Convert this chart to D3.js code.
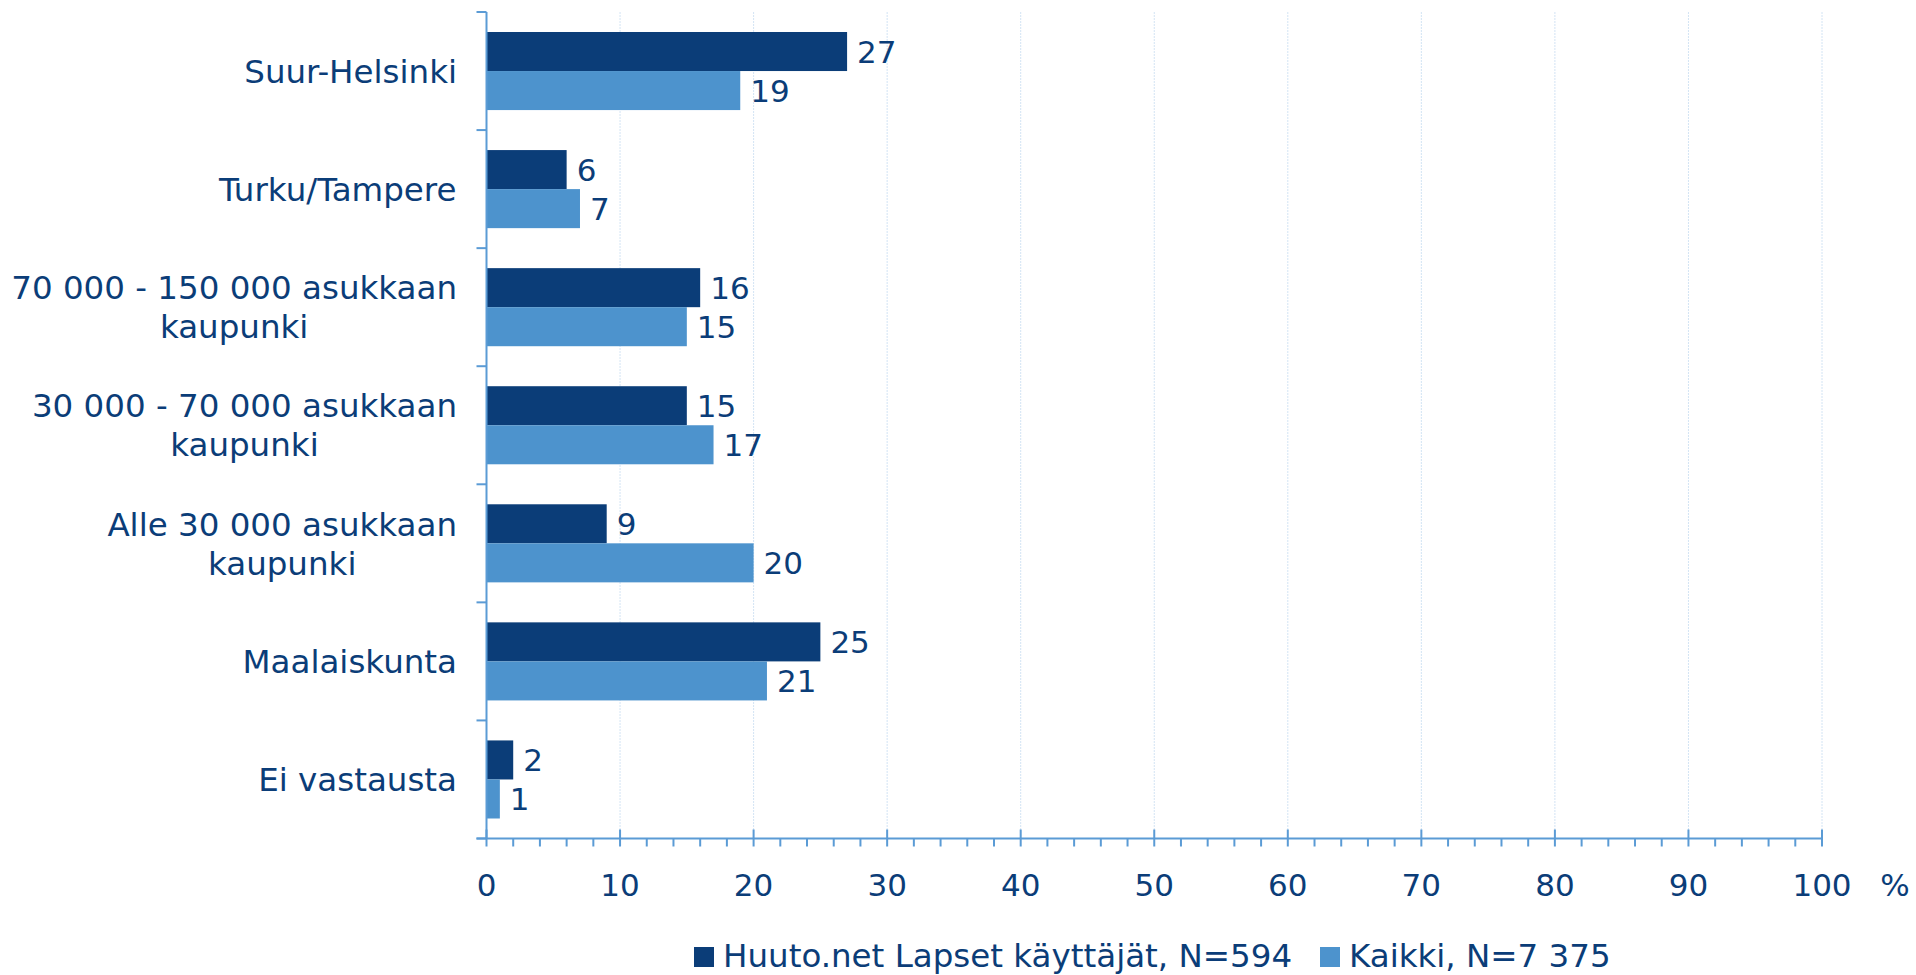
<!DOCTYPE html>
<html><head><meta charset="utf-8">
<script src="https://cdn.jsdelivr.net/npm/d3@7"></script>
<style>html,body{margin:0;padding:0;background:#fff;}svg{display:block;}text{font-family:"DejaVu Sans",Verdana,sans-serif;fill:#0b3d78;}</style>
</head><body><svg id="c" width="1916" height="975"></svg>
<script>
const categories = [["Suur-Helsinki"],["Turku/Tampere"],["70 000 - 150 000 asukkaan","kaupunki"],["30 000 - 70 000 asukkaan","kaupunki"],["Alle 30 000 asukkaan","kaupunki"],["Maalaiskunta"],["Ei vastausta"]];
const seriesNames = ["Huuto.net Lapset käyttäjät, N=594","Kaikki, N=7 375"];
const huuto = [27,6,16,15,9,25,2];
const kaikki = [19,7,15,17,20,21,1];
const xTicks = [0,10,20,30,40,50,60,70,80,90,100];
const colors = ["#0b3d78","#4d93cd"];
const axisColor = "#5b9bd5";

const svg = d3.select("#c");
const L = 486.5, R = 1822, T = 12, B = 838.5;
const x = d3.scaleLinear().domain([0,100]).range([L,R]);
const keys = categories.map((c,i)=>i);
const y = d3.scaleBand().domain(keys).range([T,B]);
const inner = d3.scaleBand().domain([0,1]).range([20, y.bandwidth()-20]);

// gridlines
svg.append("g").selectAll("line").data(xTicks.filter(d=>d>0)).join("line")
  .attr("x1",d=>x(d)).attr("x2",d=>x(d)).attr("y1",T).attr("y2",B)
  .attr("stroke","#d3e4f4").attr("stroke-width",1).attr("stroke-dasharray","2,1");

// bars
const series = [huuto,kaikki];
series.forEach((vals,si)=>{
  const g = svg.append("g");
  g.selectAll("rect").data(vals).join("rect")
    .attr("x",x(0)).attr("y",(d,i)=>y(i)+inner(si))
    .attr("width",d=>x(d)-x(0)).attr("height",inner.bandwidth())
    .attr("fill",colors[si]);
  g.selectAll("text").data(vals).join("text")
    .attr("x",d=>x(d)+10).attr("y",(d,i)=>y(i)+inner(si)+inner.bandwidth()/2)
    .attr("dy","0.36em").attr("font-size",31).text(d=>d);
});

// y axis
const ya = svg.append("g");
ya.append("line").attr("x1",L).attr("x2",L).attr("y1",T).attr("y2",B).attr("stroke",axisColor).attr("stroke-width",2);
const bounds = keys.map(k=>y(k)).concat([B]);
ya.selectAll("line.t").data(bounds).join("line").attr("class","t")
  .attr("x1",L-10).attr("x2",L).attr("y1",d=>d).attr("y2",d=>d).attr("stroke",axisColor).attr("stroke-width",2);

// category labels
const labG = svg.append("g");
categories.forEach((lines,i)=>{
  const cy = y(i)+y.bandwidth()/2;
  const t = labG.append("text").attr("font-size",32.5).attr("text-anchor","middle");
  const lh = 39;
  lines.forEach((s,j)=>{
    t.append("tspan").attr("x",0).attr("y",cy + (j-(lines.length-1)/2)*lh).attr("dy","0.36em").text(s);
  });
  const w = t.node().getBBox().width;
  t.attr("transform",`translate(${457 - w/2},0)`);
});

// x axis
const xa = svg.append("g");
xa.append("line").attr("x1",L-10).attr("x2",R).attr("y1",B).attr("y2",B).attr("stroke",axisColor).attr("stroke-width",2);
const minor = d3.range(0,101,2).filter(d=>d%10!==0);
xa.selectAll("line.mi").data(minor).join("line").attr("class","mi")
  .attr("x1",d=>x(d)).attr("x2",d=>x(d)).attr("y1",B).attr("y2",B+8).attr("stroke",axisColor).attr("stroke-width",2);
xa.selectAll("line.ma").data(xTicks).join("line").attr("class","ma")
  .attr("x1",d=>x(d)).attr("x2",d=>x(d)).attr("y1",B-9).attr("y2",B+8).attr("stroke",axisColor).attr("stroke-width",2);
xa.selectAll("text").data(xTicks).join("text")
  .attr("x",d=>x(d)).attr("y",896).attr("text-anchor","middle").attr("font-size",31).text(d=>d);
svg.append("text").attr("x",1895).attr("y",896).attr("text-anchor","middle").attr("font-size",31).text("%");

// legend
const leg = svg.append("g");
const legX = [694, 1320];
seriesNames.forEach((n,i)=>{
  leg.append("rect").attr("x",legX[i]).attr("y",947).attr("width",20).attr("height",20).attr("fill",colors[i]);
  leg.append("text").attr("x",legX[i]+29).attr("y",967).attr("font-size",32.5).text(n);
});
</script></body></html>
